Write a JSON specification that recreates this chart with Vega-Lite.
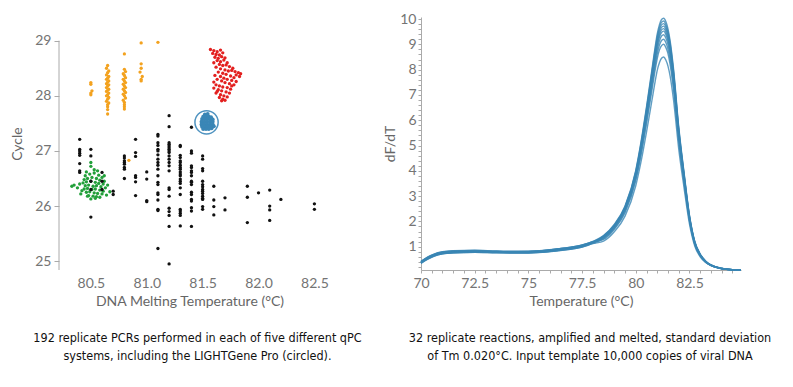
{
"$schema": "https://vega.github.io/schema/vega-lite/v6.json",
"background": "white",
"padding": {"left": 10, "top": 12, "right": 5, "bottom": 5},
"spacing": 21,
"config": {
  "view": {"stroke": null},
  "axis": {"grid": false, "labelFont": "Lato", "titleFont": "Lato", "labelColor": "#747474", "titleColor": "#666", "labelFontSize": 14, "titleFontSize": 14, "titleFontWeight": "normal", "domainColor": "#aaa", "tickColor": "#aaa", "labelOverlap": false, "labelFlush": false, "labelBound": false}
},
"datasets": {
  "pts": [
    {"x":80.5,"y":28.24,"g":"o"},{"x":80.5,"y":28.21,"g":"o"},{"x":80.51,"y":28.09,"g":"o"},{"x":80.5,"y":28.05,"g":"o"},{"x":80.5,"y":28.02,"g":"o"},
    {"x":80.65,"y":28.55,"g":"o"},{"x":80.64,"y":28.5,"g":"o"},{"x":80.66,"y":28.45,"g":"o"},{"x":80.65,"y":28.42,"g":"o"},{"x":80.64,"y":28.38,"g":"o"},{"x":80.66,"y":28.35,"g":"o"},{"x":80.65,"y":28.32,"g":"o"},{"x":80.64,"y":28.3,"g":"o"},{"x":80.66,"y":28.27,"g":"o"},{"x":80.65,"y":28.25,"g":"o"},{"x":80.64,"y":28.22,"g":"o"},{"x":80.66,"y":28.2,"g":"o"},{"x":80.65,"y":28.18,"g":"o"},{"x":80.64,"y":28.15,"g":"o"},{"x":80.66,"y":28.12,"g":"o"},{"x":80.65,"y":28.1,"g":"o"},{"x":80.64,"y":28.08,"g":"o"},{"x":80.66,"y":28.05,"g":"o"},{"x":80.65,"y":28.02,"g":"o"},{"x":80.64,"y":28.0,"g":"o"},{"x":80.66,"y":27.97,"g":"o"},{"x":80.65,"y":27.94,"g":"o"},{"x":80.64,"y":27.9,"g":"o"},{"x":80.66,"y":27.87,"g":"o"},{"x":80.65,"y":27.84,"g":"o"},{"x":80.65,"y":27.8,"g":"o"},{"x":80.65,"y":27.75,"g":"o"},{"x":80.65,"y":27.67,"g":"o"},
    {"x":80.8,"y":28.76,"g":"o"},{"x":80.8,"y":28.48,"g":"o"},{"x":80.81,"y":28.44,"g":"o"},{"x":80.79,"y":28.4,"g":"o"},{"x":80.8,"y":28.37,"g":"o"},{"x":80.81,"y":28.33,"g":"o"},{"x":80.79,"y":28.3,"g":"o"},{"x":80.8,"y":28.27,"g":"o"},{"x":80.81,"y":28.24,"g":"o"},{"x":80.79,"y":28.21,"g":"o"},{"x":80.8,"y":28.18,"g":"o"},{"x":80.81,"y":28.15,"g":"o"},{"x":80.79,"y":28.12,"g":"o"},{"x":80.8,"y":28.09,"g":"o"},{"x":80.81,"y":28.06,"g":"o"},{"x":80.79,"y":28.03,"g":"o"},{"x":80.8,"y":28.0,"g":"o"},{"x":80.81,"y":27.96,"g":"o"},{"x":80.79,"y":27.92,"g":"o"},{"x":80.8,"y":27.88,"g":"o"},{"x":80.8,"y":27.84,"g":"o"},{"x":80.8,"y":27.8,"g":"o"},{"x":80.8,"y":27.76,"g":"o"},
    {"x":80.95,"y":28.96,"g":"o"},{"x":80.95,"y":28.58,"g":"o"},{"x":80.95,"y":28.5,"g":"o"},{"x":80.94,"y":28.43,"g":"o"},{"x":80.96,"y":28.35,"g":"o"},{"x":80.95,"y":28.3,"g":"o"},{"x":80.95,"y":28.27,"g":"o"},{"x":81.1,"y":28.97,"g":"o"},{"x":80.84,"y":26.83,"g":"o"},
    {"x":81.57,"y":28.84,"g":"r"},{"x":81.6,"y":28.82,"g":"r"},{"x":81.63,"y":28.8,"g":"r"},{"x":81.66,"y":28.83,"g":"r"},{"x":81.59,"y":28.77,"g":"r"},{"x":81.62,"y":28.75,"g":"r"},{"x":81.65,"y":28.74,"g":"r"},{"x":81.68,"y":28.78,"g":"r"},{"x":81.61,"y":28.7,"g":"r"},{"x":81.64,"y":28.68,"g":"r"},{"x":81.67,"y":28.71,"g":"r"},{"x":81.7,"y":28.69,"g":"r"},{"x":81.63,"y":28.64,"g":"r"},{"x":81.66,"y":28.62,"g":"r"},{"x":81.69,"y":28.65,"g":"r"},{"x":81.72,"y":28.6,"g":"r"},{"x":81.6,"y":28.6,"g":"r"},
    {"x":81.65,"y":28.57,"g":"r"},{"x":81.68,"y":28.55,"g":"r"},{"x":81.71,"y":28.56,"g":"r"},{"x":81.74,"y":28.53,"g":"r"},{"x":81.77,"y":28.5,"g":"r"},{"x":81.62,"y":28.52,"g":"r"},{"x":81.66,"y":28.49,"g":"r"},{"x":81.7,"y":28.47,"g":"r"},{"x":81.73,"y":28.45,"g":"r"},{"x":81.76,"y":28.46,"g":"r"},{"x":81.79,"y":28.44,"g":"r"},{"x":81.82,"y":28.42,"g":"r"},{"x":81.84,"y":28.4,"g":"r"},{"x":81.8,"y":28.38,"g":"r"},{"x":81.64,"y":28.43,"g":"r"},{"x":81.68,"y":28.41,"g":"r"},{"x":81.71,"y":28.39,"g":"r"},{"x":81.75,"y":28.36,"g":"r"},{"x":81.78,"y":28.33,"g":"r"},{"x":81.83,"y":28.35,"g":"r"},{"x":81.61,"y":28.37,"g":"r"},{"x":81.66,"y":28.35,"g":"r"},{"x":81.69,"y":28.32,"g":"r"},{"x":81.72,"y":28.3,"g":"r"},{"x":81.76,"y":28.28,"g":"r"},{"x":81.8,"y":28.26,"g":"r"},{"x":81.63,"y":28.3,"g":"r"},{"x":81.67,"y":28.27,"g":"r"},{"x":81.7,"y":28.24,"g":"r"},{"x":81.74,"y":28.22,"g":"r"},{"x":81.78,"y":28.2,"g":"r"},{"x":81.6,"y":28.25,"g":"r"},
    {"x":81.62,"y":28.2,"g":"r"},{"x":81.65,"y":28.18,"g":"r"},{"x":81.68,"y":28.16,"g":"r"},{"x":81.72,"y":28.15,"g":"r"},{"x":81.75,"y":28.12,"g":"r"},{"x":81.6,"y":28.14,"g":"r"},{"x":81.64,"y":28.11,"g":"r"},{"x":81.67,"y":28.09,"g":"r"},{"x":81.71,"y":28.07,"g":"r"},{"x":81.74,"y":28.05,"g":"r"},{"x":81.62,"y":28.05,"g":"r"},{"x":81.66,"y":28.02,"g":"r"},{"x":81.69,"y":28.0,"g":"r"},{"x":81.72,"y":27.98,"g":"r"},{"x":81.65,"y":27.97,"g":"r"},{"x":81.68,"y":27.94,"g":"r"},{"x":81.7,"y":27.92,"g":"r"},{"x":81.67,"y":27.91,"g":"r"},{"x":81.76,"y":28.18,"g":"r"},{"x":81.63,"y":28.08,"g":"r"},
    {"x":80.45,"y":26.55,"g":"g"},{"x":80.49,"y":26.58,"g":"g"},{"x":80.53,"y":26.6,"g":"g"},{"x":80.57,"y":26.56,"g":"g"},{"x":80.6,"y":26.52,"g":"g"},
    {"x":80.44,"y":26.48,"g":"g"},{"x":80.47,"y":26.5,"g":"g"},{"x":80.51,"y":26.52,"g":"g"},{"x":80.55,"y":26.5,"g":"g"},{"x":80.58,"y":26.47,"g":"g"},{"x":80.62,"y":26.45,"g":"g"},
    {"x":80.43,"y":26.42,"g":"g"},{"x":80.46,"y":26.44,"g":"g"},{"x":80.5,"y":26.45,"g":"g"},{"x":80.54,"y":26.43,"g":"g"},{"x":80.57,"y":26.41,"g":"g"},{"x":80.61,"y":26.4,"g":"g"},
    {"x":80.45,"y":26.37,"g":"g"},{"x":80.48,"y":26.38,"g":"g"},{"x":80.52,"y":26.36,"g":"g"},{"x":80.55,"y":26.37,"g":"g"},{"x":80.59,"y":26.35,"g":"g"},{"x":80.63,"y":26.33,"g":"g"},
    {"x":80.44,"y":26.31,"g":"g"},{"x":80.47,"y":26.32,"g":"g"},{"x":80.51,"y":26.3,"g":"g"},{"x":80.54,"y":26.31,"g":"g"},{"x":80.58,"y":26.29,"g":"g"},{"x":80.61,"y":26.27,"g":"g"},
    {"x":80.46,"y":26.25,"g":"g"},{"x":80.49,"y":26.26,"g":"g"},{"x":80.53,"y":26.24,"g":"g"},{"x":80.56,"y":26.23,"g":"g"},{"x":80.6,"y":26.22,"g":"g"},
    {"x":80.48,"y":26.19,"g":"g"},{"x":80.52,"y":26.18,"g":"g"},{"x":80.55,"y":26.17,"g":"g"},{"x":80.58,"y":26.16,"g":"g"},{"x":80.5,"y":26.13,"g":"g"},{"x":80.54,"y":26.14,"g":"g"},
    {"x":80.33,"y":26.36,"g":"g"},{"x":80.35,"y":26.38,"g":"g"},{"x":80.38,"y":26.33,"g":"g"},{"x":80.4,"y":26.4,"g":"g"},{"x":80.42,"y":26.28,"g":"g"},{"x":80.5,"y":26.72,"g":"g"},{"x":80.53,"y":26.66,"g":"g"},{"x":80.46,"y":26.62,"g":"g"},{"x":80.56,"y":26.64,"g":"g"},{"x":80.65,"y":26.38,"g":"g"},{"x":80.67,"y":26.26,"g":"g"},{"x":80.64,"y":26.2,"g":"g"},{"x":80.47,"y":26.18,"g":"g"},{"x":80.41,"y":26.22,"g":"g"},{"x":80.62,"y":26.55,"g":"g"},{"x":80.5,"y":26.79,"g":"g"},
    {"x":80.4,"y":27.21,"g":"k"},{"x":80.4,"y":27.03,"g":"k"},{"x":80.4,"y":27.0,"g":"k"},{"x":80.4,"y":26.96,"g":"k"},{"x":80.4,"y":26.92,"g":"k"},{"x":80.4,"y":26.77,"g":"k"},{"x":80.4,"y":26.64,"g":"k"},{"x":80.4,"y":26.61,"g":"k"},
    {"x":80.5,"y":27.03,"g":"k"},{"x":80.5,"y":26.91,"g":"k"},{"x":80.5,"y":26.45,"g":"k"},{"x":80.5,"y":26.3,"g":"k"},{"x":80.5,"y":25.8,"g":"k"},
    {"x":80.6,"y":26.61,"g":"k"},{"x":80.6,"y":26.45,"g":"k"},{"x":80.6,"y":26.3,"g":"k"},
    {"x":80.7,"y":26.27,"g":"k"},{"x":80.7,"y":26.21,"g":"k"},
    {"x":80.8,"y":26.91,"g":"k"},{"x":80.8,"y":26.87,"g":"k"},{"x":80.8,"y":26.82,"g":"k"},{"x":80.8,"y":26.79,"g":"k"},{"x":80.8,"y":26.76,"g":"k"},{"x":80.8,"y":26.7,"g":"k"},{"x":80.8,"y":26.67,"g":"k"},{"x":80.8,"y":26.5,"g":"k"},
    {"x":80.9,"y":27.21,"g":"k"},{"x":80.9,"y":26.97,"g":"k"},{"x":80.9,"y":26.9,"g":"k"},{"x":80.9,"y":26.55,"g":"k"},{"x":80.9,"y":26.52,"g":"k"},{"x":80.9,"y":26.44,"g":"k"},{"x":80.9,"y":26.19,"g":"k"},
    {"x":81.0,"y":26.62,"g":"k"},{"x":81.0,"y":26.49,"g":"k"},{"x":81.0,"y":26.1,"g":"k"},{"x":81.0,"y":26.08,"g":"k"},
    {"x":81.1,"y":27.3,"g":"k"},{"x":81.1,"y":27.27,"g":"k"},{"x":81.1,"y":27.15,"g":"k"},{"x":81.1,"y":27.1,"g":"k"},{"x":81.1,"y":27.03,"g":"k"},{"x":81.1,"y":27.0,"g":"k"},{"x":81.1,"y":26.93,"g":"k"},{"x":81.1,"y":26.85,"g":"k"},{"x":81.1,"y":26.79,"g":"k"},{"x":81.1,"y":26.74,"g":"k"},{"x":81.1,"y":26.67,"g":"k"},{"x":81.1,"y":26.55,"g":"k"},{"x":81.1,"y":26.43,"g":"k"},{"x":81.1,"y":26.39,"g":"k"},{"x":81.1,"y":26.24,"g":"k"},{"x":81.1,"y":26.21,"g":"k"},{"x":81.1,"y":26.11,"g":"k"},{"x":81.1,"y":25.94,"g":"k"},{"x":81.1,"y":25.92,"g":"k"},{"x":81.1,"y":25.23,"g":"k"},
    {"x":81.2,"y":27.64,"g":"k"},{"x":81.2,"y":27.44,"g":"k"},{"x":81.2,"y":27.15,"g":"k"},{"x":81.2,"y":27.12,"g":"k"},{"x":81.2,"y":27.09,"g":"k"},{"x":81.2,"y":27.06,"g":"k"},{"x":81.2,"y":27.03,"g":"k"},{"x":81.2,"y":27.0,"g":"k"},{"x":81.2,"y":26.97,"g":"k"},{"x":81.2,"y":26.91,"g":"k"},{"x":81.2,"y":26.85,"g":"k"},{"x":81.2,"y":26.79,"g":"k"},{"x":81.2,"y":26.73,"g":"k"},{"x":81.2,"y":26.64,"g":"k"},{"x":81.2,"y":26.33,"g":"k"},{"x":81.2,"y":26.3,"g":"k"},{"x":81.2,"y":26.18,"g":"k"},{"x":81.2,"y":25.96,"g":"k"},{"x":81.2,"y":25.9,"g":"k"},{"x":81.2,"y":25.83,"g":"k"},{"x":81.2,"y":25.63,"g":"k"},{"x":81.2,"y":24.95,"g":"k"},
    {"x":81.3,"y":27.1,"g":"k"},{"x":81.3,"y":27.08,"g":"k"},{"x":81.3,"y":26.92,"g":"k"},{"x":81.3,"y":26.88,"g":"k"},{"x":81.3,"y":26.82,"g":"k"},{"x":81.3,"y":26.79,"g":"k"},{"x":81.3,"y":26.74,"g":"k"},{"x":81.3,"y":26.7,"g":"k"},{"x":81.3,"y":26.67,"g":"k"},{"x":81.3,"y":26.62,"g":"k"},{"x":81.3,"y":26.58,"g":"k"},{"x":81.3,"y":26.55,"g":"k"},{"x":81.3,"y":26.49,"g":"k"},{"x":81.3,"y":26.45,"g":"k"},{"x":81.3,"y":26.41,"g":"k"},{"x":81.3,"y":26.33,"g":"k"},{"x":81.3,"y":26.21,"g":"k"},{"x":81.3,"y":25.94,"g":"k"},{"x":81.3,"y":25.91,"g":"k"},{"x":81.3,"y":25.87,"g":"k"},{"x":81.3,"y":25.83,"g":"k"},{"x":81.3,"y":25.64,"g":"k"},
    {"x":81.4,"y":27.43,"g":"k"},{"x":81.4,"y":27.0,"g":"k"},{"x":81.4,"y":26.96,"g":"k"},{"x":81.4,"y":26.73,"g":"k"},{"x":81.4,"y":26.7,"g":"k"},{"x":81.4,"y":26.64,"g":"k"},{"x":81.4,"y":26.61,"g":"k"},{"x":81.4,"y":26.55,"g":"k"},{"x":81.4,"y":26.45,"g":"k"},{"x":81.4,"y":26.43,"g":"k"},{"x":81.4,"y":26.39,"g":"k"},{"x":81.4,"y":26.25,"g":"k"},{"x":81.4,"y":26.21,"g":"k"},{"x":81.4,"y":26.12,"g":"k"},{"x":81.4,"y":26.09,"g":"k"},{"x":81.4,"y":25.97,"g":"k"},{"x":81.4,"y":25.91,"g":"k"},{"x":81.4,"y":25.63,"g":"k"},
    {"x":81.5,"y":26.91,"g":"k"},{"x":81.5,"y":26.85,"g":"k"},{"x":81.5,"y":26.68,"g":"k"},{"x":81.5,"y":26.64,"g":"k"},{"x":81.5,"y":26.45,"g":"k"},{"x":81.5,"y":26.39,"g":"k"},{"x":81.5,"y":26.35,"g":"k"},{"x":81.5,"y":26.3,"g":"k"},{"x":81.5,"y":26.27,"g":"k"},{"x":81.5,"y":26.23,"g":"k"},{"x":81.5,"y":26.18,"g":"k"},{"x":81.5,"y":26.14,"g":"k"},{"x":81.5,"y":26.12,"g":"k"},{"x":81.5,"y":25.99,"g":"k"},{"x":81.5,"y":25.94,"g":"k"},
    {"x":81.6,"y":26.36,"g":"k"},{"x":81.6,"y":26.11,"g":"k"},{"x":81.6,"y":25.99,"g":"k"},{"x":81.6,"y":25.84,"g":"k"},
    {"x":81.7,"y":26.15,"g":"k"},{"x":81.7,"y":25.93,"g":"k"},
    {"x":81.9,"y":26.36,"g":"k"},{"x":81.9,"y":26.16,"g":"k"},{"x":81.9,"y":25.7,"g":"k"},
    {"x":82.0,"y":26.24,"g":"k"},
    {"x":82.1,"y":26.29,"g":"k"},{"x":82.1,"y":26.0,"g":"k"},{"x":82.1,"y":25.93,"g":"k"},{"x":82.1,"y":25.74,"g":"k"},
    {"x":82.2,"y":26.12,"g":"k"},
    {"x":82.5,"y":26.04,"g":"k"},{"x":82.5,"y":25.94,"g":"k"}
  ],
  "blue": [
    {"x":81.52,"y":27.66},{"x":81.545,"y":27.67},
    {"x":81.505,"y":27.62},{"x":81.53,"y":27.62},{"x":81.555,"y":27.62},{"x":81.575,"y":27.61},
    {"x":81.495,"y":27.58},{"x":81.52,"y":27.58},{"x":81.545,"y":27.58},{"x":81.57,"y":27.58},{"x":81.59,"y":27.57},
    {"x":81.49,"y":27.53},{"x":81.515,"y":27.53},{"x":81.54,"y":27.53},{"x":81.565,"y":27.53},{"x":81.59,"y":27.53},
    {"x":81.49,"y":27.48},{"x":81.515,"y":27.48},{"x":81.54,"y":27.48},{"x":81.565,"y":27.48},{"x":81.59,"y":27.48},{"x":81.6,"y":27.45},
    {"x":81.495,"y":27.44},{"x":81.52,"y":27.44},{"x":81.545,"y":27.44},{"x":81.57,"y":27.44},
    {"x":81.505,"y":27.4},{"x":81.53,"y":27.4},{"x":81.555,"y":27.4},{"x":81.58,"y":27.41}
  ],
  "melt": [
    {"r":1,"t":70,"v":0.40},{"r":1,"t":70.3,"v":0.57},{"r":1,"t":70.6,"v":0.69},{"r":1,"t":71,"v":0.78},{"r":1,"t":71.5,"v":0.82},{"r":1,"t":72.5,"v":0.84},{"r":1,"t":73.5,"v":0.81},{"r":1,"t":74.5,"v":0.80},{"r":1,"t":75.5,"v":0.83},{"r":1,"t":76.5,"v":0.92},{"r":1,"t":77.5,"v":1.06},{"r":1,"t":78,"v":1.21},{"r":1,"t":78.5,"v":1.44},{"r":1,"t":79,"v":1.88},{"r":1,"t":79.5,"v":2.61},{"r":1,"t":80,"v":4.02},{"r":1,"t":80.25,"v":5.17},{"r":1,"t":80.5,"v":6.53},{"r":1,"t":80.75,"v":7.99},{"r":1,"t":80.9,"v":8.88},{"r":1,"t":81,"v":9.41},{"r":1,"t":81.1,"v":9.77},{"r":1,"t":81.2,"v":9.98},{"r":1,"t":81.3,"v":10.03},{"r":1,"t":81.4,"v":9.90},{"r":1,"t":81.5,"v":9.61},{"r":1,"t":81.6,"v":9.14},{"r":1,"t":81.75,"v":8.10},{"r":1,"t":82,"v":5.75},{"r":1,"t":82.25,"v":3.92},{"r":1,"t":82.5,"v":2.25},{"r":1,"t":82.75,"v":1.20},{"r":1,"t":83,"v":0.71},{"r":1,"t":83.25,"v":0.44},{"r":1,"t":83.5,"v":0.28},{"r":1,"t":84,"v":0.15},{"r":1,"t":84.5,"v":0.09},{"r":1,"t":84.9,"v":0.08},
    {"r":2,"t":70,"v":0.36},{"r":2,"t":70.3,"v":0.52},{"r":2,"t":70.6,"v":0.64},{"r":2,"t":71,"v":0.74},{"r":2,"t":71.5,"v":0.77},{"r":2,"t":72.5,"v":0.80},{"r":2,"t":73.5,"v":0.78},{"r":2,"t":74.5,"v":0.77},{"r":2,"t":75.5,"v":0.79},{"r":2,"t":76.5,"v":0.87},{"r":2,"t":77.5,"v":1.02},{"r":2,"t":78,"v":1.16},{"r":2,"t":78.5,"v":1.43},{"r":2,"t":79,"v":1.86},{"r":2,"t":79.5,"v":2.58},{"r":2,"t":80,"v":3.98},{"r":2,"t":80.25,"v":5.11},{"r":2,"t":80.5,"v":6.46},{"r":2,"t":80.75,"v":7.90},{"r":2,"t":80.9,"v":8.78},{"r":2,"t":81,"v":9.30},{"r":2,"t":81.1,"v":9.66},{"r":2,"t":81.2,"v":9.87},{"r":2,"t":81.3,"v":9.92},{"r":2,"t":81.4,"v":9.78},{"r":2,"t":81.5,"v":9.50},{"r":2,"t":81.6,"v":9.04},{"r":2,"t":81.75,"v":8.01},{"r":2,"t":82,"v":5.68},{"r":2,"t":82.25,"v":3.87},{"r":2,"t":82.5,"v":2.22},{"r":2,"t":82.75,"v":1.19},{"r":2,"t":83,"v":0.70},{"r":2,"t":83.25,"v":0.43},{"r":2,"t":83.5,"v":0.28},{"r":2,"t":84,"v":0.14},{"r":2,"t":84.5,"v":0.09},{"r":2,"t":84.9,"v":0.08},
    {"r":3,"t":70,"v":0.39},{"r":3,"t":70.3,"v":0.55},{"r":3,"t":70.6,"v":0.67},{"r":3,"t":71,"v":0.76},{"r":3,"t":71.5,"v":0.80},{"r":3,"t":72.5,"v":0.82},{"r":3,"t":73.5,"v":0.80},{"r":3,"t":74.5,"v":0.79},{"r":3,"t":75.5,"v":0.81},{"r":3,"t":76.5,"v":0.90},{"r":3,"t":77.5,"v":1.04},{"r":3,"t":78,"v":1.18},{"r":3,"t":78.5,"v":1.41},{"r":3,"t":79,"v":1.84},{"r":3,"t":79.5,"v":2.56},{"r":3,"t":80,"v":3.94},{"r":3,"t":80.25,"v":5.06},{"r":3,"t":80.5,"v":6.39},{"r":3,"t":80.75,"v":7.83},{"r":3,"t":80.9,"v":8.70},{"r":3,"t":81,"v":9.21},{"r":3,"t":81.1,"v":9.57},{"r":3,"t":81.2,"v":9.77},{"r":3,"t":81.3,"v":9.82},{"r":3,"t":81.4,"v":9.69},{"r":3,"t":81.5,"v":9.41},{"r":3,"t":81.6,"v":8.95},{"r":3,"t":81.75,"v":7.93},{"r":3,"t":82,"v":5.63},{"r":3,"t":82.25,"v":3.84},{"r":3,"t":82.5,"v":2.20},{"r":3,"t":82.75,"v":1.18},{"r":3,"t":83,"v":0.70},{"r":3,"t":83.25,"v":0.43},{"r":3,"t":83.5,"v":0.27},{"r":3,"t":84,"v":0.14},{"r":3,"t":84.5,"v":0.09},{"r":3,"t":84.9,"v":0.08},
    {"r":4,"t":70,"v":0.41},{"r":4,"t":70.3,"v":0.58},{"r":4,"t":70.6,"v":0.70},{"r":4,"t":71,"v":0.79},{"r":4,"t":71.5,"v":0.83},{"r":4,"t":72.5,"v":0.85},{"r":4,"t":73.5,"v":0.82},{"r":4,"t":74.5,"v":0.81},{"r":4,"t":75.5,"v":0.83},{"r":4,"t":76.5,"v":0.93},{"r":4,"t":77.5,"v":1.07},{"r":4,"t":78,"v":1.20},{"r":4,"t":78.5,"v":1.40},{"r":4,"t":79,"v":1.82},{"r":4,"t":79.5,"v":2.53},{"r":4,"t":80,"v":3.90},{"r":4,"t":80.25,"v":5.01},{"r":4,"t":80.5,"v":6.33},{"r":4,"t":80.75,"v":7.75},{"r":4,"t":80.9,"v":8.61},{"r":4,"t":81,"v":9.11},{"r":4,"t":81.1,"v":9.47},{"r":4,"t":81.2,"v":9.67},{"r":4,"t":81.3,"v":9.72},{"r":4,"t":81.4,"v":9.59},{"r":4,"t":81.5,"v":9.32},{"r":4,"t":81.6,"v":8.86},{"r":4,"t":81.75,"v":7.85},{"r":4,"t":82,"v":5.57},{"r":4,"t":82.25,"v":3.80},{"r":4,"t":82.5,"v":2.18},{"r":4,"t":82.75,"v":1.16},{"r":4,"t":83,"v":0.69},{"r":4,"t":83.25,"v":0.42},{"r":4,"t":83.5,"v":0.27},{"r":4,"t":84,"v":0.14},{"r":4,"t":84.5,"v":0.09},{"r":4,"t":84.9,"v":0.08},
    {"r":5,"t":70,"v":0.35},{"r":5,"t":70.3,"v":0.51},{"r":5,"t":70.6,"v":0.63},{"r":5,"t":71,"v":0.72},{"r":5,"t":71.5,"v":0.76},{"r":5,"t":72.5,"v":0.78},{"r":5,"t":73.5,"v":0.77},{"r":5,"t":74.5,"v":0.76},{"r":5,"t":75.5,"v":0.78},{"r":5,"t":76.5,"v":0.87},{"r":5,"t":77.5,"v":1.01},{"r":5,"t":78,"v":1.15},{"r":5,"t":78.5,"v":1.38},{"r":5,"t":79,"v":1.80},{"r":5,"t":79.5,"v":2.51},{"r":5,"t":80,"v":3.86},{"r":5,"t":80.25,"v":4.96},{"r":5,"t":80.5,"v":6.26},{"r":5,"t":80.75,"v":7.67},{"r":5,"t":80.9,"v":8.52},{"r":5,"t":81,"v":9.02},{"r":5,"t":81.1,"v":9.37},{"r":5,"t":81.2,"v":9.57},{"r":5,"t":81.3,"v":9.62},{"r":5,"t":81.4,"v":9.49},{"r":5,"t":81.5,"v":9.22},{"r":5,"t":81.6,"v":8.77},{"r":5,"t":81.75,"v":7.77},{"r":5,"t":82,"v":5.51},{"r":5,"t":82.25,"v":3.76},{"r":5,"t":82.5,"v":2.15},{"r":5,"t":82.75,"v":1.15},{"r":5,"t":83,"v":0.68},{"r":5,"t":83.25,"v":0.42},{"r":5,"t":83.5,"v":0.27},{"r":5,"t":84,"v":0.14},{"r":5,"t":84.5,"v":0.09},{"r":5,"t":84.9,"v":0.08},
    {"r":6,"t":70,"v":0.38},{"r":6,"t":70.3,"v":0.54},{"r":6,"t":70.6,"v":0.66},{"r":6,"t":71,"v":0.75},{"r":6,"t":71.5,"v":0.79},{"r":6,"t":72.5,"v":0.81},{"r":6,"t":73.5,"v":0.79},{"r":6,"t":74.5,"v":0.78},{"r":6,"t":75.5,"v":0.80},{"r":6,"t":76.5,"v":0.89},{"r":6,"t":77.5,"v":1.03},{"r":6,"t":78,"v":1.17},{"r":6,"t":78.5,"v":1.37},{"r":6,"t":79,"v":1.79},{"r":6,"t":79.5,"v":2.48},{"r":6,"t":80,"v":3.82},{"r":6,"t":80.25,"v":4.91},{"r":6,"t":80.5,"v":6.20},{"r":6,"t":80.75,"v":7.59},{"r":6,"t":80.9,"v":8.43},{"r":6,"t":81,"v":8.93},{"r":6,"t":81.1,"v":9.28},{"r":6,"t":81.2,"v":9.47},{"r":6,"t":81.3,"v":9.52},{"r":6,"t":81.4,"v":9.39},{"r":6,"t":81.5,"v":9.13},{"r":6,"t":81.6,"v":8.68},{"r":6,"t":81.75,"v":7.69},{"r":6,"t":82,"v":5.46},{"r":6,"t":82.25,"v":3.72},{"r":6,"t":82.5,"v":2.13},{"r":6,"t":82.75,"v":1.14},{"r":6,"t":83,"v":0.67},{"r":6,"t":83.25,"v":0.42},{"r":6,"t":83.5,"v":0.27},{"r":6,"t":84,"v":0.14},{"r":6,"t":84.5,"v":0.09},{"r":6,"t":84.9,"v":0.08},
    {"r":7,"t":70,"v":0.40},{"r":7,"t":70.3,"v":0.56},{"r":7,"t":70.6,"v":0.68},{"r":7,"t":71,"v":0.77},{"r":7,"t":71.5,"v":0.81},{"r":7,"t":72.5,"v":0.83},{"r":7,"t":73.5,"v":0.81},{"r":7,"t":74.5,"v":0.79},{"r":7,"t":75.5,"v":0.82},{"r":7,"t":76.5,"v":0.91},{"r":7,"t":77.5,"v":1.04},{"r":7,"t":78,"v":1.17},{"r":7,"t":78.5,"v":1.35},{"r":7,"t":79,"v":1.76},{"r":7,"t":79.5,"v":2.44},{"r":7,"t":80,"v":3.76},{"r":7,"t":80.25,"v":4.84},{"r":7,"t":80.5,"v":6.11},{"r":7,"t":80.75,"v":7.47},{"r":7,"t":80.9,"v":8.30},{"r":7,"t":81,"v":8.79},{"r":7,"t":81.1,"v":9.13},{"r":7,"t":81.2,"v":9.33},{"r":7,"t":81.3,"v":9.38},{"r":7,"t":81.4,"v":9.25},{"r":7,"t":81.5,"v":8.99},{"r":7,"t":81.6,"v":8.55},{"r":7,"t":81.75,"v":7.57},{"r":7,"t":82,"v":5.37},{"r":7,"t":82.25,"v":3.66},{"r":7,"t":82.5,"v":2.10},{"r":7,"t":82.75,"v":1.12},{"r":7,"t":83,"v":0.66},{"r":7,"t":83.25,"v":0.41},{"r":7,"t":83.5,"v":0.26},{"r":7,"t":84,"v":0.14},{"r":7,"t":84.5,"v":0.09},{"r":7,"t":84.9,"v":0.08},
    {"r":8,"t":70,"v":0.34},{"r":8,"t":70.3,"v":0.50},{"r":8,"t":70.6,"v":0.62},{"r":8,"t":71,"v":0.72},{"r":8,"t":71.5,"v":0.76},{"r":8,"t":72.5,"v":0.78},{"r":8,"t":73.5,"v":0.76},{"r":8,"t":74.5,"v":0.75},{"r":8,"t":75.5,"v":0.77},{"r":8,"t":76.5,"v":0.85},{"r":8,"t":77.5,"v":0.99},{"r":8,"t":78,"v":1.13},{"r":8,"t":78.5,"v":1.32},{"r":8,"t":79,"v":1.72},{"r":8,"t":79.5,"v":2.40},{"r":8,"t":80,"v":3.69},{"r":8,"t":80.25,"v":4.74},{"r":8,"t":80.5,"v":5.99},{"r":8,"t":80.75,"v":7.33},{"r":8,"t":80.9,"v":8.14},{"r":8,"t":81,"v":8.62},{"r":8,"t":81.1,"v":8.96},{"r":8,"t":81.2,"v":9.15},{"r":8,"t":81.3,"v":9.20},{"r":8,"t":81.4,"v":9.07},{"r":8,"t":81.5,"v":8.81},{"r":8,"t":81.6,"v":8.38},{"r":8,"t":81.75,"v":7.42},{"r":8,"t":82,"v":5.27},{"r":8,"t":82.25,"v":3.59},{"r":8,"t":82.5,"v":2.06},{"r":8,"t":82.75,"v":1.10},{"r":8,"t":83,"v":0.65},{"r":8,"t":83.25,"v":0.41},{"r":8,"t":83.5,"v":0.26},{"r":8,"t":84,"v":0.13},{"r":8,"t":84.5,"v":0.09},{"r":8,"t":84.9,"v":0.08},
    {"r":9,"t":70,"v":0.42},{"r":9,"t":70.3,"v":0.59},{"r":9,"t":70.6,"v":0.71},{"r":9,"t":71,"v":0.80},{"r":9,"t":71.5,"v":0.84},{"r":9,"t":72.5,"v":0.86},{"r":9,"t":73.5,"v":0.83},{"r":9,"t":74.5,"v":0.82},{"r":9,"t":75.5,"v":0.84},{"r":9,"t":76.5,"v":0.93},{"r":9,"t":77.5,"v":1.06},{"r":9,"t":78,"v":1.19},{"r":9,"t":78.5,"v":1.29},{"r":9,"t":79,"v":1.69},{"r":9,"t":79.5,"v":2.34},{"r":9,"t":80,"v":3.61},{"r":9,"t":80.25,"v":4.64},{"r":9,"t":80.5,"v":5.86},{"r":9,"t":80.75,"v":7.17},{"r":9,"t":80.9,"v":7.97},{"r":9,"t":81,"v":8.44},{"r":9,"t":81.1,"v":8.77},{"r":9,"t":81.2,"v":8.95},{"r":9,"t":81.3,"v":9.00},{"r":9,"t":81.4,"v":8.88},{"r":9,"t":81.5,"v":8.63},{"r":9,"t":81.6,"v":8.20},{"r":9,"t":81.75,"v":7.27},{"r":9,"t":82,"v":5.16},{"r":9,"t":82.25,"v":3.52},{"r":9,"t":82.5,"v":2.02},{"r":9,"t":82.75,"v":1.08},{"r":9,"t":83,"v":0.64},{"r":9,"t":83.25,"v":0.40},{"r":9,"t":83.5,"v":0.26},{"r":9,"t":84,"v":0.13},{"r":9,"t":84.5,"v":0.09},{"r":9,"t":84.9,"v":0.08},
    {"r":10,"t":70,"v":0.37},{"r":10,"t":70.3,"v":0.53},{"r":10,"t":70.6,"v":0.65},{"r":10,"t":71,"v":0.73},{"r":10,"t":71.5,"v":0.77},{"r":10,"t":72.5,"v":0.79},{"r":10,"t":73.5,"v":0.77},{"r":10,"t":74.5,"v":0.76},{"r":10,"t":75.5,"v":0.78},{"r":10,"t":76.5,"v":0.86},{"r":10,"t":77.5,"v":0.99},{"r":10,"t":78,"v":1.12},{"r":10,"t":78.5,"v":1.22},{"r":10,"t":79,"v":1.59},{"r":10,"t":79.5,"v":2.21},{"r":10,"t":80,"v":3.41},{"r":10,"t":80.25,"v":4.38},{"r":10,"t":80.5,"v":5.53},{"r":10,"t":80.75,"v":6.77},{"r":10,"t":80.9,"v":7.52},{"r":10,"t":81,"v":7.97},{"r":10,"t":81.1,"v":8.27},{"r":10,"t":81.2,"v":8.45},{"r":10,"t":81.3,"v":8.50},{"r":10,"t":81.4,"v":8.38},{"r":10,"t":81.5,"v":8.14},{"r":10,"t":81.6,"v":7.74},{"r":10,"t":81.75,"v":6.86},{"r":10,"t":82,"v":4.87},{"r":10,"t":82.25,"v":3.32},{"r":10,"t":82.5,"v":1.90},{"r":10,"t":82.75,"v":1.02},{"r":10,"t":83,"v":0.60},{"r":10,"t":83.25,"v":0.38},{"r":10,"t":83.5,"v":0.25},{"r":10,"t":84,"v":0.13},{"r":10,"t":84.5,"v":0.09},{"r":10,"t":84.9,"v":0.08}
  ]
},
"hconcat": [
  {
    "width": 261, "height": 253,
    "title": {"text": ["192 replicate PCRs performed in each of five different qPC", "systems, including the LIGHTGene Pro (circled)."], "orient": "bottom", "anchor": "middle", "frame": "group", "font": "Liberation Sans Narrow, DejaVu Sans Condensed, Liberation Sans, Arial, sans-serif", "fontSize": 12.5, "fontWeight": "normal", "color": "#111", "lineHeight": 18, "offset": 24, "dx": 8},
    "layer": [
      {
        "data": {"values": [{"k": 1}]},
        "mark": {"type": "rule", "color": "#aaa", "strokeWidth": 1},
        "encoding": {
          "x": {"datum": 80.215, "type": "quantitative", "scale": {"domain": [80.215, 82.55], "nice": false, "zero": false}},
          "y": {"datum": 24.84, "type": "quantitative", "scale": {"domain": [24.84, 29.43], "nice": false, "zero": false}},
          "y2": {"datum": 29}
        }
      },
      {
        "data": {"name": "pts"},
        "mark": {"type": "circle", "size": 11, "opacity": 1},
        "encoding": {
          "x": {"field": "x", "type": "quantitative", "scale": {"domain": [80.215, 82.55], "nice": false, "zero": false},
                "axis": {"values": [80.5, 81, 81.5, 82, 82.5], "format": ".1f", "domain": false, "ticks": false, "labelPadding": 6, "title": "DNA Melting Temperature (°C)", "titlePadding": 4}},
          "y": {"field": "y", "type": "quantitative", "scale": {"domain": [24.84, 29.43], "nice": false, "zero": false},
                "axis": {"values": [25, 26, 27, 28, 29], "format": "d", "domain": false, "tickSize": 5, "labelPadding": 3, "title": "Cycle", "titlePadding": 10}},
          "color": {"field": "g", "type": "nominal", "scale": {"domain": ["o", "r", "g", "k"], "range": ["#f3a21f", "#e3201f", "#22a03a", "#111111"]}, "legend": null}
        }
      },
      {
        "data": {"name": "blue"},
        "mark": {"type": "circle", "size": 16, "opacity": 1, "color": "#3a86b6"},
        "encoding": {
          "x": {"field": "x", "type": "quantitative"},
          "y": {"field": "y", "type": "quantitative"}
        }
      },
      {
        "data": {"values": [{"x": 81.535, "y": 27.52}]},
        "mark": {"type": "point", "shape": "circle", "size": 540, "filled": false, "stroke": "#4f93c0", "strokeWidth": 1.5, "opacity": 1},
        "encoding": {
          "x": {"field": "x", "type": "quantitative"},
          "y": {"field": "y", "type": "quantitative"}
        }
      }
    ]
  },
  {
    "width": 320, "height": 253,
    "title": {"text": ["32 replicate reactions, amplified and melted, standard deviation", "of Tm 0.020°C. Input template 10,000 copies of viral DNA"], "orient": "bottom", "anchor": "middle", "frame": "group", "font": "Liberation Sans Narrow, DejaVu Sans Condensed, Liberation Sans, Arial, sans-serif", "fontSize": 12.5, "fontWeight": "normal", "color": "#111", "lineHeight": 18, "offset": 24, "dx": 9},
    "data": {"name": "melt"},
    "mark": {"type": "line", "interpolate": "monotone", "strokeWidth": 1.4, "opacity": 0.8, "color": "#3a86b4"},
    "encoding": {
      "x": {"field": "t", "type": "quantitative", "scale": {"domain": [70, 84.9], "nice": false, "zero": false},
            "axis": {"values": [70, 70.5, 71, 71.5, 72, 72.5, 73, 73.5, 74, 74.5, 75, 75.5, 76, 76.5, 77, 77.5, 78, 78.5, 79, 79.5, 80, 80.5, 81, 81.5, 82, 82.5, 83, 83.5, 84, 84.5],
                     "labelExpr": "datum.value % 2.5 == 0 ? format(datum.value, '~g') : ''", "tickSize": 3, "labelPadding": 3, "title": "Temperature (°C)", "titlePadding": 4}},
      "y": {"field": "v", "type": "quantitative", "scale": {"domain": [0.08, 10.08], "nice": false, "zero": false},
            "axis": {"values": [0.2, 0.4, 0.6, 0.8, 1, 1.2, 1.4, 1.6, 1.8, 2, 2.2, 2.4, 2.6, 2.8, 3, 3.2, 3.4, 3.6, 3.8, 4, 4.2, 4.4, 4.6, 4.8, 5, 5.2, 5.4, 5.6, 5.8, 6, 6.2, 6.4, 6.6, 6.8, 7, 7.2, 7.4, 7.6, 7.8, 8, 8.2, 8.4, 8.6, 8.8, 9, 9.2, 9.4, 9.6, 9.8, 10],
                     "labelExpr": "abs(datum.value - round(datum.value)) < 0.001 ? format(datum.value, 'd') : ''", "tickSize": 3, "labelPadding": 2, "title": "dF/dT", "titlePadding": 2}},
      "detail": {"field": "r", "type": "nominal"}
    }
  }
]
}
